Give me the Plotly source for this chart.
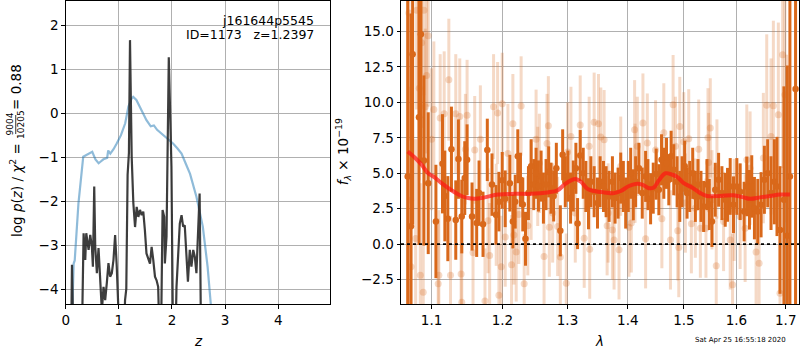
import plotly.graph_objects as go

# ---------------- left panel data ----------------
pz_z = [0.10, 0.118, 0.15, 0.30, 0.337, 0.368, 0.387, 0.431, 0.462, 0.493, 0.512, 0.537, 0.556, 0.587,
        0.618, 0.649, 0.681, 0.712, 0.743, 0.774, 0.805, 0.836, 0.868, 0.899, 0.930, 0.961, 0.993, 1.024,
        1.086, 1.117, 1.14, 1.165, 1.19, 1.21, 1.242, 1.273, 1.305, 1.336, 1.367, 1.398, 1.43, 1.46, 1.49,
        1.52, 1.586, 1.617, 1.648, 1.68, 1.71, 1.74, 1.773, 1.79, 1.823, 1.854, 1.866, 1.897, 1.94, 1.99,
        2.022, 2.06, 2.085, 2.116, 2.147, 2.18, 2.21, 2.24, 2.27, 2.30, 2.335, 2.366, 2.40, 2.43, 2.46,
        2.49, 2.52, 2.55]
pz_logp = [-5.5, -3.45, -5.5, -5.5, -2.73, -3.34, -2.73, -3.11, -2.77, -3.04, -3.49, -1.67, -3.04, -3.64,
           -3.07, -3.80, -4.5, -3.95, -4.25, -3.86, -3.41, -3.72, -3.64, -3.34, -2.77, -3.49, -4.25, -5.5,
           -5.5, -4.25, -4.0, -1.4, -0.9, 1.66, -1.0, -2.05, -2.59, -2.13, -2.36, -2.20, -2.32, -2.24, -2.66,
           -3.19, -3.42, -3.04, -3.34, -3.72, -3.80, -3.95, -5.5, -5.5, -2.20, -2.36, -3.42, -2.81, 1.27, -1.22,
           -5.5, -5.5, -3.95, -3.27, -2.51, -2.32, -2.58, -2.55, -3.11, -3.83, -3.11, -3.49, -3.11, -3.27, -3.64,
           -2.58, -1.83, -5.5]

chi_z = [0.10, 0.15, 0.17, 0.24, 0.33, 0.42, 0.50, 0.56, 0.62, 0.66, 0.71, 0.78, 0.80, 0.84, 0.90, 0.96,
         1.04, 1.12, 1.18, 1.24, 1.27, 1.33, 1.40, 1.52, 1.60, 1.66, 1.72, 1.84, 1.95, 2.02, 2.10, 2.18,
         2.26, 2.34, 2.46, 2.58, 2.67, 2.73, 2.76]
chi_val = [-5.5, -3.42, -3.35, -2.05, -0.99, -0.93, -0.88, -1.05, -1.14, -1.10, -1.05, -1.02, -0.85, -0.92,
           -0.82, -0.69, -0.50, -0.23, 0.15, 0.33, 0.37, 0.30, 0.14, -0.16, -0.30, -0.28, -0.38, -0.50, -0.62,
           -0.69, -0.80, -0.92, -1.15, -1.38, -1.90, -2.58, -3.49, -4.34, -5.5]

# ---------------- right panel data ----------------
dark_wave = [1.0682, 1.0725, 1.0747, 1.0831, 1.0857, 1.0897, 1.0955, 1.1059, 1.1149, 1.1181, 1.1222, 1.1272,
             1.1332, 1.1369, 1.1416, 1.1458, 1.1491, 1.1561, 1.1627, 1.1661, 1.1718, 1.1780, 1.1848, 1.1906,
             1.1949, 1.1998, 1.2042, 1.2111, 1.2156, 1.2191, 1.2230, 1.2270, 1.2305, 1.2346, 1.2391, 1.2432,
             1.2472, 1.2508, 1.2544, 1.2585, 1.2621, 1.2662, 1.2703, 1.2740, 1.2781, 1.2823, 1.2886, 1.2923,
             1.2965, 1.3007, 1.3050, 1.3093, 1.3135, 1.3162, 1.3205, 1.3254, 1.3297, 1.3340, 1.3379, 1.3433,
             1.3488, 1.3532, 1.3588, 1.3632, 1.3682, 1.3738, 1.3783, 1.3834, 1.3879, 1.3924, 1.3964, 1.4009,
             1.4050, 1.4095, 1.4136, 1.4193, 1.4251, 1.4310, 1.4351, 1.4398, 1.4445, 1.4498, 1.4545, 1.4593,
             1.4634, 1.4682, 1.4724, 1.4766, 1.4814, 1.4875, 1.4924, 1.4966, 1.5015, 1.5058, 1.5107, 1.5163,
             1.5212, 1.5262, 1.5318, 1.5368, 1.5431, 1.5475, 1.5526, 1.5589, 1.5653, 1.5717, 1.5781, 1.5826,
             1.5878, 1.5943, 1.6008, 1.6073, 1.6152, 1.6205, 1.6258, 1.6304, 1.6358, 1.6425, 1.6492, 1.6559,
             1.6627, 1.6695, 1.6763, 1.6818, 1.6880, 1.6962, 1.7032, 1.7087, 1.7206]
dark_flux = [4.78, 1.27, 13.4, 8.95, 14.8, 5.9, 4.3, 1.6, 5.67, 3.4, 1.8, 6.7,
             1.7, 6.0, 1.95, 4.66, 5.95, 1.95, 1.5, 3.6, 1.4, 6.65, 4.2, 2.07,
             3.0, 4.5, 3.2, 4.3, 1.6, 3.0, 6.2, 4.55, 2.8, 0.38, 3.6, 5.5,
             4.2, 5.0, 4.1, 4.8, 3.25, 4.2, 5.1, 3.95, 3.4, 5.35, 0.94, 6.3,
             4.4, 4.8, 3.25, 4.1, 5.35, 1.45, 6.25, 5.0, 4.07, 2.85, 4.4, 3.7,
             2.9, 4.4, 4.07, 3.7, 3.37, 4.4, 3.25, 3.6, 4.66, 4.07, 2.9, 4.07,
             5.0, 3.48, 4.4, 5.35, 3.6, 4.78, 4.2, 3.2, 3.95, 4.94, 3.84, 5.95,
             5.0, 5.7, 4.54, 6.2, 5.25, 4.4, 3.37, 4.4, 5.5, 3.6, 4.07, 5.0,
             3.37, 4.2, 3.37, 2.66, 4.2, 2.8, 1.6, 3.84, 4.54, 3.6, 3.13, 3.48,
             4.07, 2.78, 4.07, 3.7, 2.3, 4.07, 3.13, 4.07, 2.54, 2.3, 2.78, 4.54,
             5.0, 3.6, 4.4, 4.07, 1.0, 3.13, 0.6, 4.78, 10.95]
dark_err = [20, 15, 12, 9, 9, 6, 5, 4, 3.5, 3.2, 3.0, 3.0,
            2.8, 2.8, 2.6, 2.6, 2.5, 2.4, 2.4, 2.3, 2.3, 2.2, 2.2, 2.1,
            2.1, 2.0, 2.0, 2.0, 1.9, 1.9, 1.9, 1.9, 1.9, 1.9, 1.9, 1.9,
            1.8, 1.8, 1.8, 1.8, 1.8, 1.8, 1.8, 1.8, 1.8, 1.8, 1.8, 1.8,
            1.8, 1.8, 1.8, 1.8, 1.8, 1.8, 1.8, 1.8, 1.8, 1.8, 1.8, 1.8,
            1.8, 1.8, 1.8, 1.8, 1.8, 1.8, 1.8, 1.8, 1.8, 1.8, 1.8, 1.8,
            1.8, 1.8, 1.8, 1.8, 1.8, 1.8, 1.8, 1.8, 1.8, 1.8, 1.8, 1.8,
            1.8, 1.8, 1.8, 1.8, 1.8, 1.8, 1.8, 1.8, 1.8, 1.8, 1.8, 1.8,
            1.8, 1.8, 1.8, 1.8, 1.8, 1.8, 1.8, 1.9, 1.9, 1.9, 1.9, 1.9,
            2.0, 2.0, 2.0, 2.0, 2.1, 2.1, 2.1, 2.2, 2.2, 2.3, 2.3, 2.4,
            2.4, 2.6, 3.0, 3.5, 4.5, 8, 12, 18, 22]

light_wave = [1.0699, 1.0721, 1.0725, 1.0787, 1.0800, 1.0835, 1.0849, 1.0866, 1.0888, 1.0897, 1.0915, 1.0933,
              1.0955, 1.1000, 1.1031, 1.1090, 1.1099, 1.1117, 1.1172, 1.1236, 1.1259, 1.1332, 1.1388, 1.1407,
              1.1416, 1.1467, 1.1491, 1.1575, 1.1599, 1.1680, 1.1746, 1.1790, 1.1814, 1.1871, 1.1910, 1.1930,
              1.1949, 1.1983, 1.1998, 1.2042, 1.2082, 1.2136, 1.2156, 1.2171, 1.2206, 1.2245, 1.2280, 1.2326,
              1.2381, 1.2432, 1.2508, 1.2533, 1.2559, 1.2631, 1.2677, 1.2698, 1.2713, 1.2765, 1.2844, 1.2886,
              1.2981, 1.3002, 1.3055, 1.3125, 1.3205, 1.3270, 1.3351, 1.3360, 1.3433, 1.3505, 1.3543, 1.3599,
              1.3649, 1.3666, 1.3738, 1.3766, 1.3850, 1.3879, 1.4021, 1.4061, 1.4118, 1.4125, 1.4165, 1.4263,
              1.4310, 1.4340, 1.4486, 1.4599, 1.4634, 1.4754, 1.4802, 1.4845, 1.4887, 1.4905, 1.4924, 1.4997,
              1.5027, 1.5089, 1.5138, 1.5212, 1.5275, 1.5306, 1.5412, 1.5450, 1.5462, 1.5494, 1.5526, 1.5608,
              1.5621, 1.5749, 1.5878, 1.5924, 1.5956, 1.6073, 1.6172, 1.6205, 1.6271, 1.6391, 1.6452, 1.6538,
              1.6607, 1.6695, 1.6743, 1.6846, 1.6880, 1.6935, 1.6983, 1.7018]
light_flux = [16.3, 3.1, -1.6, 0.4, 16.5, 11.0, -2.2, 14.2, -3.4, 16.5, 9.7, 11.9,
              14.7, 7.4, 9.5, -2.8, -2.2, 8.9, 9.2, 11.6, -2.2, 9.2, 9.0, -2.1,
              -4.1, 6.7, 9.1, -0.6, 6.65, 7.4, -4.0, 1.65, -0.8, 9.7, 2.07, 9.25,
              -3.6, -1.6, 9.9, 0.5, 6.4, -1.45, 8.5, 0.65, -0.55, 2.1, 9.75, -2.8,
              1.3, 3.8, 7.4, 4.78, 5.7, -0.87, 7.1, 8.35, 1.2, 2.2, 1.25, -0.9,
              -2.75, 6.5, 7.6, 2.2, 8.4, 0.42, 6.9, -0.35, 8.6, 8.5, 7.55, 7.37,
              1.3, 2.2, 1.0, 0.3, -0.4, 5.5, 1.2, 1.5, 8.07, 5.0, 6.9, 8.54,
              0.38, 7.13, 6.65, 1.8, 7.85, 0.3, 9.84, 6.9, 0.94, -0.24, 8.3, 7.22,
              2.9, 7.43, 1.44, 2.54, 6.7, 1.13, 1.13, 7.5, 5.76, 8.2, 3.13, -1.53,
              5.3, 1.6, 0.3, -2.87, 2.42, 1.95, 1.13, 5.95, 5.36, -0.56, -1.34, 6.07,
              9.8, 7.6, 9.76, 9.13, -3.46, 13.36, 10.54, 3.36]
light_err = [9, 8, 8, 7, 7, 6.5, 6.5, 6, 6, 6, 5.5, 5.5,
             5, 5, 4.8, 4.6, 4.6, 4.5, 4.4, 4.3, 4.2, 4.2, 4.1, 4.0,
             4.0, 3.9, 3.9, 3.8, 3.8, 3.8, 3.7, 3.7, 3.7, 3.7, 3.6, 3.6,
             3.6, 3.6, 3.6, 3.5, 3.5, 3.5, 3.5, 3.5, 3.5, 3.5, 3.5, 3.5,
             3.5, 3.5, 3.5, 3.5, 3.5, 3.5, 3.5, 3.5, 3.5, 3.5, 3.5, 3.5,
             3.5, 3.5, 3.5, 3.5, 3.5, 3.5, 3.5, 3.5, 3.5, 3.5, 3.5, 3.5,
             3.5, 3.5, 3.5, 3.5, 3.5, 3.5, 3.5, 3.5, 3.5, 3.5, 3.5, 3.5,
             3.5, 3.5, 3.5, 3.5, 3.5, 3.5, 3.5, 3.5, 3.5, 3.5, 3.5, 3.5,
             3.5, 3.5, 3.5, 3.5, 3.5, 3.5, 3.5, 3.5, 3.5, 3.5, 3.5, 3.5,
             3.5, 3.5, 3.5, 3.6, 3.6, 3.7, 3.8, 3.9, 4.0, 4.2, 4.4, 4.6,
             5.0, 5.5, 6.0, 6.5, 7.0, 8.0, 9.0, 10.0]

model_wave = [1.0682, 1.0778, 1.0866, 1.0955, 1.1045, 1.1135, 1.1272, 1.1411, 1.1505, 1.1599, 1.1742,
              1.1935, 1.2181, 1.2432, 1.2687, 1.2844, 1.2949, 1.3055, 1.3135, 1.3216, 1.3324, 1.3433,
              1.3599, 1.3766, 1.3879, 1.4021, 1.4136, 1.4251, 1.4368, 1.4456, 1.4545, 1.4664, 1.4784,
              1.4875, 1.4997, 1.5150, 1.5306, 1.5431, 1.5685, 1.5943, 1.6139, 1.6271, 1.6471, 1.6675,
              1.6880, 1.7087]
model_flux = [6.54, 6.1, 5.6, 5.0, 4.7, 4.3, 3.8, 3.4, 3.25, 3.2, 3.3,
              3.5, 3.55, 3.55, 3.65, 3.8, 4.2, 4.5, 4.6, 4.4, 3.9, 3.75,
              3.65, 3.6, 3.75, 4.1, 4.25, 4.2, 3.95, 4.0, 4.5, 5.0, 4.9,
              4.75, 4.3, 4.0, 3.6, 3.4, 3.4, 3.45, 3.3, 3.2, 3.3, 3.4,
              3.5, 3.5]

left_xticks = [0, 1, 2, 3, 4]
left_yticks = [-4, -3, -2, -1, 0, 1, 2]
right_xticks = [1.1, 1.2, 1.3, 1.4, 1.5, 1.6, 1.7]
right_yticks = [-2.5, 0.0, 2.5, 5.0, 7.5, 10.0, 12.5, 15.0]

FONT = "DejaVu Sans"
DARK = "rgb(217,104,26)"
LIGHT = "rgba(217,104,26,0.25)"
GRID = "#b0b0b0"

fig = go.Figure()

# left panel
fig.add_trace(go.Scatter(x=chi_z, y=chi_val, mode="lines", xaxis="x", yaxis="y",
                         line=dict(color="rgba(31,119,180,0.5)", width=2.2), showlegend=False))
fig.add_trace(go.Scatter(x=pz_z, y=pz_logp, mode="lines", xaxis="x", yaxis="y",
                         line=dict(color="rgba(40,40,40,0.9)", width=2.2), showlegend=False))

# right panel
fig.add_trace(go.Scatter(x=light_wave, y=light_flux, mode="markers", xaxis="x2", yaxis="y2",
                         marker=dict(color=LIGHT, size=7, line=dict(width=0)),
                         error_y=dict(type="data", array=light_err, color=LIGHT, thickness=3, width=0),
                         showlegend=False))
fig.add_trace(go.Scatter(x=dark_wave, y=dark_flux, mode="markers", xaxis="x2", yaxis="y2",
                         marker=dict(color=DARK, size=6.5, line=dict(width=0)),
                         error_y=dict(type="data", array=dark_err, color=DARK, thickness=3, width=0),
                         showlegend=False))
fig.add_trace(go.Scatter(x=model_wave, y=model_flux, mode="lines", xaxis="x2", yaxis="y2",
                         line=dict(color="rgba(255,20,20,0.7)", width=4, shape="spline"),
                         showlegend=False))

fig.add_shape(type="line", xref="x2 domain", yref="y2", x0=0, x1=1, y0=0, y1=0,
              line=dict(color="black", width=1.6, dash="dot"), layer="above")

axis_common = dict(showline=True, linecolor="black", linewidth=1, mirror=True,
                   ticks="outside", ticklen=3.5, tickwidth=0.8, tickcolor="black",
                   showgrid=True, gridcolor=GRID, gridwidth=0.9, zeroline=False,
                   tickfont=dict(family=FONT, size=13.5, color="black"))

fig.update_layout(
    width=800, height=350,
    margin=dict(l=0, r=0, t=0, b=0),
    paper_bgcolor="white", plot_bgcolor="white",
    xaxis=dict(domain=[62/800, 328/800], range=[0, 4.98], tickvals=left_xticks,
               anchor="y", **axis_common),
    yaxis=dict(domain=[46/350, 349/350], range=[-4.34, 2.55], tickvals=left_yticks,
               ticktext=[str(v).replace("-", "\u2212") for v in left_yticks],
               anchor="x", **axis_common),
    xaxis2=dict(domain=[399/800, 799/800], type="log", range=[0.02508, 0.23752],
                tickvals=right_xticks, ticktext=[f"{v:.1f}" for v in right_xticks],
                anchor="y2", **axis_common),
    yaxis2=dict(domain=[46/350, 349/350], range=[-4.22, 17.15], tickvals=right_yticks,
                ticktext=[f"{v:.1f}".replace("-", "\u2212") for v in right_yticks],
                anchor="x2", **axis_common),
)

ann_font = dict(family=FONT, size=13.5, color="black")
annotations = [
    dict(x=314/800, y=1 - 20/350, text="j161644p5545", xanchor="right", yanchor="middle",
         font=dict(family=FONT, size=12.5, color="black")),
    dict(x=314/800, y=1 - 35/350, text="ID=1173   z=1.2397", xanchor="right", yanchor="middle",
         font=dict(family=FONT, size=12.5, color="black")),
    dict(x=195/800, y=1 - 341/350, text="<i>z</i>", xanchor="center", yanchor="middle", font=ann_font),
    dict(x=598/800, y=1 - 341/350, text="<i>λ</i>", xanchor="center", yanchor="middle", font=ann_font),
    dict(x=12/800, y=1 - 190/350, text="log <i>p</i>(<i>z</i>) / <i>χ</i><sup>2</sup> =",
         textangle=-90, xanchor="center", yanchor="middle", font=ann_font),
    dict(x=6.5/800, y=1 - 124/350, text="9004", textangle=-90, xanchor="center", yanchor="middle",
         font=dict(family=FONT, size=9, color="black")),
    dict(x=17/800, y=1 - 124/350, text="10205", textangle=-90, xanchor="center", yanchor="middle",
         font=dict(family=FONT, size=9, color="black")),
    dict(x=12/800, y=1 - 87/350, text="= 0.88", textangle=-90, xanchor="center", yanchor="middle",
         font=ann_font),
    dict(x=341/800, y=1 - 152/350, text="<i>f</i><sub><i>λ</i></sub> × 10<sup>−19</sup>",
         textangle=-90, xanchor="center", yanchor="middle", font=ann_font),
    dict(x=788/800, y=1 - 340/350, text="Sat Apr 25 16:55:18 2020", xanchor="right", yanchor="middle",
         font=dict(family=FONT, size=7, color="black")),
]
for a in annotations:
    a.update(xref="paper", yref="paper", showarrow=False)
fig.update_layout(annotations=annotations)

fig.add_shape(type="line", xref="paper", yref="paper", x0=11.8/800, x1=11.8/800,
              y0=1 - 115/350, y1=1 - 134/350, line=dict(color="black", width=0.8))

fig.write_html("out.html")
